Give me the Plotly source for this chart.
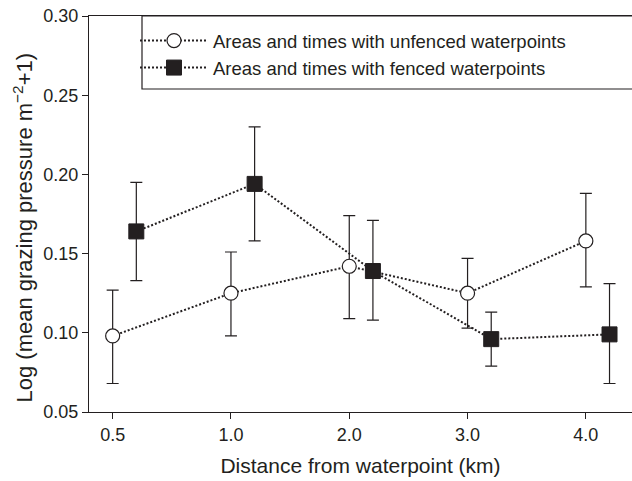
import plotly.graph_objects as go

tick_labels = ["0.5", "1.0", "2.0", "3.0", "4.0"]
x_unfenced = [0, 1, 2, 3, 4]
x_fenced = [0.2, 1.2, 2.2, 3.2, 4.2]

unfenced = [0.098, 0.125, 0.142, 0.125, 0.158]
unfenced_hi = [0.127, 0.151, 0.174, 0.147, 0.188]
unfenced_lo = [0.068, 0.098, 0.109, 0.103, 0.129]

fenced = [0.164, 0.194, 0.139, 0.096, 0.099]
fenced_hi = [0.195, 0.230, 0.171, 0.113, 0.131]
fenced_lo = [0.133, 0.158, 0.108, 0.079, 0.068]

y_ticks = [0.05, 0.10, 0.15, 0.20, 0.25, 0.30]
y_ticktext = ["0.05", "0.10", "0.15", "0.20", "0.25", "0.30"]

INK = "#231f20"
FONT = "Liberation Sans, Arial, Helvetica, sans-serif"

L, T, W, H = 89, 16, 543, 396


def err(v, hi, lo):
    return dict(type="data", symmetric=False,
                array=[h - m for h, m in zip(hi, v)],
                arrayminus=[m - l for m, l in zip(v, lo)],
                color=INK, thickness=1.2, width=6)


fig = go.Figure()
fig.add_trace(go.Scatter(
    x=x_unfenced, y=unfenced, mode="lines+markers",
    name="Areas and times with unfenced waterpoints",
    line=dict(color=INK, width=2, dash="2px,2px"),
    marker=dict(symbol="circle", size=14, color="white", line=dict(color=INK, width=1.2)),
    error_y=err(unfenced, unfenced_hi, unfenced_lo),
))
fig.add_trace(go.Scatter(
    x=x_fenced, y=fenced, mode="lines+markers",
    name="Areas and times with fenced waterpoints",
    line=dict(color=INK, width=2, dash="2px,2px"),
    marker=dict(symbol="square", size=15, color=INK, line=dict(color=INK, width=1)),
    error_y=err(fenced, fenced_hi, fenced_lo),
))

# legend box (extends past the right edge as in the reference)
fig.add_shape(type="rect", xref="paper", yref="paper",
              x0=(142 - L) / W, x1=1.2, y0=1 - (89 - T) / H, y1=1,
              line=dict(color=INK, width=1.2), fillcolor="rgba(0,0,0,0)", layer="above")

# y-axis title
fig.add_annotation(xref="paper", yref="paper",
                   x=(22 - L) / W, y=(412 - 227.5) / H, xanchor="center", yanchor="middle",
                   text="Log (mean grazing pressure m<sup>\u22122</sup>+1)", textangle=-90,
                   showarrow=False, font=dict(family=FONT, size=22, color=INK))

fig.update_layout(
    width=632, height=481,
    margin=dict(l=L, r=0, t=T, b=481 - T - H),
    paper_bgcolor="white", plot_bgcolor="white",
    font=dict(family=FONT, size=18, color=INK),
    showlegend=True,
    legend=dict(x=(135 - L) / W, y=1 - 6 / H, xanchor="left", yanchor="top",
                bgcolor="rgba(0,0,0,0)", borderwidth=0,
                font=dict(family=FONT, size=18.5, color=INK),
                itemwidth=68, tracegroupgap=0),
    xaxis=dict(
        range=[-0.2, 4.39], tickmode="array", tickvals=x_unfenced, ticktext=tick_labels,
        showline=True, linecolor=INK, linewidth=1.2, mirror=True,
        ticks="outside", ticklen=6, tickcolor=INK, tickwidth=1.2,
        showgrid=False, zeroline=False,
        title=dict(text="Distance from waterpoint (km)", font=dict(size=21), standoff=14),
    ),
    yaxis=dict(
        range=[0.05, 0.30], tickmode="array", tickvals=y_ticks, ticktext=y_ticktext,
        showline=True, linecolor=INK, linewidth=1.2, mirror=False,
        ticks="outside", ticklen=6, tickcolor=INK, tickwidth=1.2,
        showgrid=False, zeroline=False,
    ),
)

fig.write_html("out.html")
